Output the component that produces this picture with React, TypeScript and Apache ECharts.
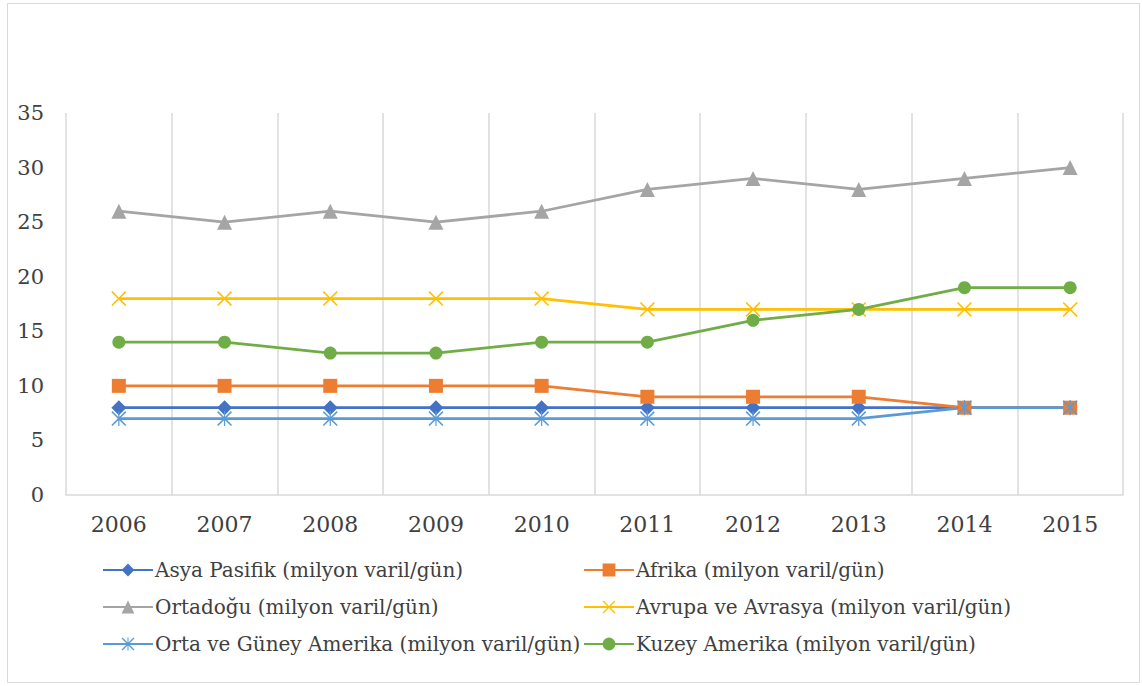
import React, { useEffect, useRef } from "react";
import * as echarts from "echarts";

const years = ["2006", "2007", "2008", "2009", "2010", "2011", "2012", "2013", "2014", "2015"];
const asyaPasifik = [8, 8, 8, 8, 8, 8, 8, 8, 8, 8];
const afrika = [10, 10, 10, 10, 10, 9, 9, 9, 8, 8];
const ortadogu = [26, 25, 26, 25, 26, 28, 29, 28, 29, 30];
const avrupaAvrasya = [18, 18, 18, 18, 18, 17, 17, 17, 17, 17];
const ortaGuneyAmerika = [7, 7, 7, 7, 7, 7, 7, 7, 8, 8];
const kuzeyAmerika = [14, 14, 13, 13, 14, 14, 16, 17, 19, 19];

const names = [
  "Asya Pasifik (milyon varil/gün)",
  "Afrika (milyon varil/gün)",
  "Ortadoğu (milyon varil/gün)",
  "Avrupa ve Avrasya (milyon varil/gün)",
  "Orta ve Güney Amerika (milyon varil/gün)",
  "Kuzey Amerika (milyon varil/gün)",
];

const X_PATH =
  "path://M0,1.5 L1.5,0 L10,8.5 L18.5,0 L20,1.5 L11.5,10 L20,18.5 L18.5,20 L10,11.5 L1.5,20 L0,18.5 L8.5,10 Z";
const STAR_PATH =
  "path://M0,1.5 L1.5,0 L10,8.5 L18.5,0 L20,1.5 L11.5,10 L20,18.5 L18.5,20 L10,11.5 L1.5,20 L0,18.5 L8.5,10 Z M9.2,0 L10.8,0 L10.8,20 L9.2,20 Z";

const FONT = "DejaVu Serif";

export default function App() {
  const ref = useRef<HTMLDivElement>(null);
  useEffect(() => {
    document.body.style.margin = "0";
    const chart = echarts.init(ref.current!, null, { renderer: "svg" });
    const mk = (name: string, data: number[], color: string, symbol: string, size: number) => ({
      name,
      type: "line",
      data,
      symbol,
      symbolSize: size,
      showSymbol: true,
      lineStyle: { color, width: 2.75 },
      itemStyle: { color },
      z: 2,
    });
    const legendCommon = {
      orient: "vertical",
      top: 555,
      itemWidth: 50,
      itemHeight: 16,
      itemGap: 17,
      textStyle: { color: "#404040", fontFamily: FONT, fontSize: 20, padding: [0, 0, 0, -3] },
    };
    chart.setOption({
      animation: false,
      backgroundColor: "#ffffff",
      textStyle: { fontFamily: FONT },
      graphic: [
        {
          type: "rect",
          shape: { x: 7.5, y: 3.5, width: 1132, height: 679 },
          style: { fill: "none", stroke: "#D9D9D9", lineWidth: 1 },
          silent: true,
        },
      ],
      grid: { left: 66, right: 19, top: 113, bottom: 191, containLabel: false },
      xAxis: {
        type: "category",
        data: years,
        boundaryGap: true,
        axisLine: { show: true, lineStyle: { color: "#D9D9D9", width: 1.5 } },
        axisTick: { show: false },
        splitLine: { show: true, lineStyle: { color: "#D9D9D9", width: 1.5 } },
        axisLabel: { color: "#404040", fontFamily: FONT, fontSize: 22, margin: 18 },
      },
      yAxis: {
        type: "value",
        min: 0,
        max: 35,
        interval: 5,
        axisLine: { show: false },
        axisTick: { show: false },
        splitLine: { show: false },
        axisLabel: { color: "#404040", fontFamily: FONT, fontSize: 21, margin: 22 },
      },
      legend: [
        { ...legendCommon, left: 97, data: [names[0], names[2], names[4]] },
        { ...legendCommon, left: 578, data: [names[1], names[3], names[5]] },
      ],
      series: [
        mk(names[0], asyaPasifik, "#4472C4", "diamond", 15),
        mk(names[1], afrika, "#ED7D31", "rect", 14),
        mk(names[2], ortadogu, "#A5A5A5", "triangle", 15),
        mk(names[3], avrupaAvrasya, "#FFC000", X_PATH, 15),
        mk(names[4], ortaGuneyAmerika, "#5B9BD5", STAR_PATH, 15),
        mk(names[5], kuzeyAmerika, "#70AD47", "circle", 13),
      ],
    });
    return () => chart.dispose();
  }, []);
  return <div ref={ref} style={{ width: 1142, height: 686 }} />;
}
